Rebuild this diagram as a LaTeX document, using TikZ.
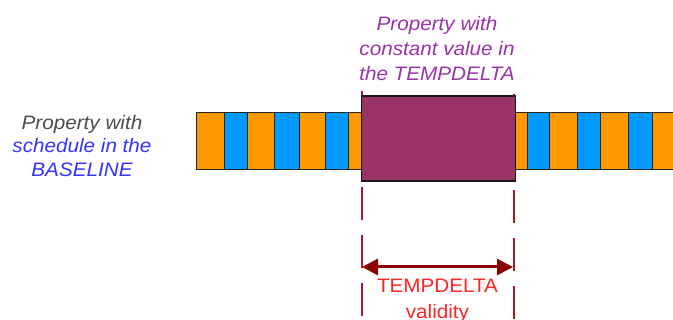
\documentclass[tikz,border=0pt]{standalone}
\usepackage{fontspec}
\setmainfont{Liberation Sans}[FakeStretch=1.06]
\usetikzlibrary{arrows.meta}
\definecolor{orng}{HTML}{FF9900}
\definecolor{blu}{HTML}{0099FF}
\definecolor{purp}{HTML}{993366}
\definecolor{ptext}{HTML}{9933AA}
\definecolor{btext}{HTML}{3333FF}
\definecolor{gtext}{HTML}{4D4D4D}
\definecolor{rtext}{HTML}{FF2626}
\definecolor{dred}{HTML}{8B0000}
\definecolor{dashred}{HTML}{A31A2A}
\tikzset{
  orangestripe/.style={fill=orng, draw=black!85, line width=1pt},
  bluestripe/.style={fill=blu, draw=black!85, line width=1pt},
  label/.style={inner sep=0pt, align=center, font=\fontsize{19.5}{24}\selectfont},
  guide/.style={draw=dashred, line width=1.3pt, dash pattern=on 33pt off 15pt},
}
\begin{document}
\begin{tikzpicture}[x=1pt,y=-1pt]
\useasboundingbox (0,0) rectangle (673,320);
\fill[white] (0,0) rectangle (673,320);
% guides behind the box
\coordinate (gl1) at (362,91);
\coordinate (gl2) at (362,322);
\coordinate (gr1) at (514,91);
\coordinate (gr2) at (514,322);
\draw[guide] (gl1) -- (gl2);
\draw[guide, dash phase=-3pt] (gr1) -- (gr2);
% bar
\begin{scope}
\clip (0,0) rectangle (673,320);
\foreach \a/\b/\s in {196/224/orangestripe,224/247/bluestripe,247/274/orangestripe,274/299/bluestripe,299/325/orangestripe,325/348/bluestripe,348/362/orangestripe,
  515/527/orangestripe,527/549/bluestripe,549/577/orangestripe,577/600/bluestripe,600/628/orangestripe,628/652/bluestripe,652/690/orangestripe}
  \draw[\s] (\a,112.5) rectangle (\b,169.5);
\end{scope}
% constant value box
\node[draw=black!90, fill=purp, line width=1.4pt, minimum width=154pt, minimum height=85pt, inner sep=0pt] (box) at (438.5,138.5) {};
% validity arrow
\coordinate (al) at (362,267);
\coordinate (ar) at (513,267);
\draw[dred, line width=3pt, {Triangle[length=16pt,width=16pt]}-{Triangle[length=16pt,width=16pt]}] (al) -- (ar);
% labels
\node[label, text=ptext, font=\fontsize{19.5}{25}\selectfont\itshape] (top) at (437,49) {Property with\\constant value in\\the TEMPDELTA};
\node[label, font=\fontsize{19.5}{23.5}\selectfont\itshape] (left) at (82,146) {\textcolor{gtext}{Property with}\\\textcolor{btext}{schedule in the}\\\textcolor{btext}{BASELINE}};
\node[label, text=rtext, font=\fontsize{19.5}{25.5}\selectfont, anchor=north] (valid) at (437.5,279) {TEMPDELTA\\validity};
\end{tikzpicture}
\end{document}
